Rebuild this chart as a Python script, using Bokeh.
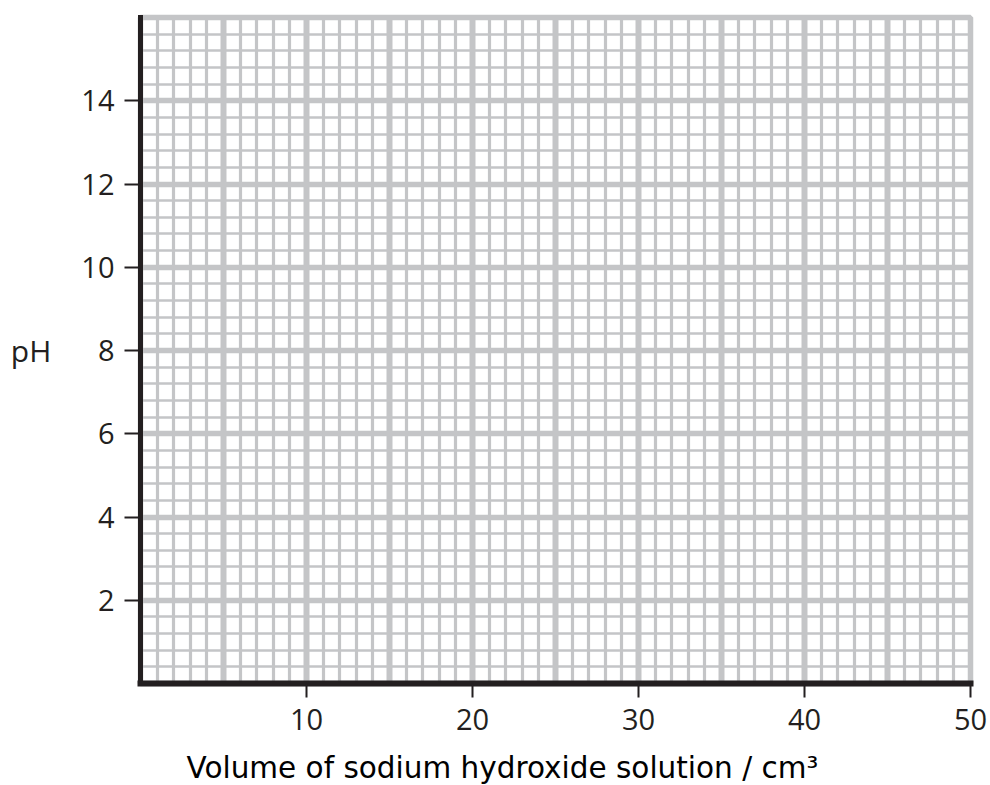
from bokeh.plotting import figure
from bokeh.models import FixedTicker, Range1d, Title
from bokeh.embed import file_html
from bokeh.resources import INLINE

# ---- chart data (empty titration grid) ----
x_limits = (0, 50)
y_limits = (0, 16)
x_label_ticks = [10, 20, 30, 40, 50]
y_label_ticks = [2, 4, 6, 8, 10, 12, 14]
x_major_grid = [0, 5, 10, 15, 20, 25, 30, 35, 40, 45, 50]
x_minor_grid = list(range(0, 51))
y_major_grid = [0, 2, 4, 6, 8, 10, 12, 14, 16]
y_minor_grid = [round(0.4 * i, 1) for i in range(41)]
x_title = "Volume of sodium hydroxide solution / cm\u00b3"
y_title = "pH"

GRID = "#c4c5c7"
INK = "#231f20"
TICK_FONT = "Open Sans"

p = figure(frame_width=830, frame_height=666,
           x_range=Range1d(*x_limits), y_range=Range1d(*y_limits),
           output_backend="svg", toolbar_location=None,
           min_border_left=140, min_border_right=20,
           min_border_top=17, min_border_bottom=60,
           background_fill_color="white", border_fill_color="white")

# grids
p.xgrid.ticker = FixedTicker(ticks=x_major_grid, minor_ticks=x_minor_grid)
p.ygrid.ticker = FixedTicker(ticks=y_major_grid, minor_ticks=y_minor_grid)
for g in (p.xgrid, p.ygrid):
    g.grid_line_color = GRID
    g.minor_grid_line_color = GRID
p.xgrid.grid_line_width = 6
p.xgrid.minor_grid_line_width = 3.2
p.ygrid.grid_line_width = 5.5
p.ygrid.minor_grid_line_width = 2.6
p.outline_line_color = GRID
p.outline_line_width = 5.5

# axes
p.xaxis.ticker = FixedTicker(ticks=x_label_ticks, minor_ticks=[])
p.yaxis.ticker = FixedTicker(ticks=y_label_ticks, minor_ticks=[])
for ax in (p.xaxis, p.yaxis):
    ax.axis_line_color = INK
    ax.axis_line_cap = "square"
    ax.major_tick_line_color = INK
    ax.major_tick_line_width = 2
    ax.major_tick_in = 0
    ax.minor_tick_line_color = None
    ax.major_label_text_font = TICK_FONT
    ax.major_label_text_font_size = "29px"
    ax.major_label_text_color = INK
p.xaxis.axis_line_width = 6
p.yaxis.axis_line_width = 5
p.xaxis.major_tick_out = 14
p.yaxis.major_tick_out = 16
p.xaxis.major_label_standoff = 11
p.yaxis.major_label_standoff = 10

# y title: horizontal "pH" beside the tick labels
p.yaxis.axis_label = y_title
p.yaxis.axis_label_orientation = "horizontal"
p.yaxis.axis_label_standoff = 27
p.yaxis.axis_label_text_font = TICK_FONT
p.yaxis.axis_label_text_font_size = "30px"
p.yaxis.axis_label_text_font_style = "normal"
p.yaxis.axis_label_text_color = INK

# x title placed below the axis, offset from the left of the frame
p.add_layout(Title(text=x_title, align="left", offset=46, standoff=32,
                   text_font="DejaVu Sans", text_font_size="29.5px",
                   text_font_style="normal", text_color="#000000"), "below")

html = file_html(p, INLINE)
html = html.replace("<head>", "<head><style>html,body{overflow:hidden;}</style>", 1)
open("out.html", "w").write(html)
